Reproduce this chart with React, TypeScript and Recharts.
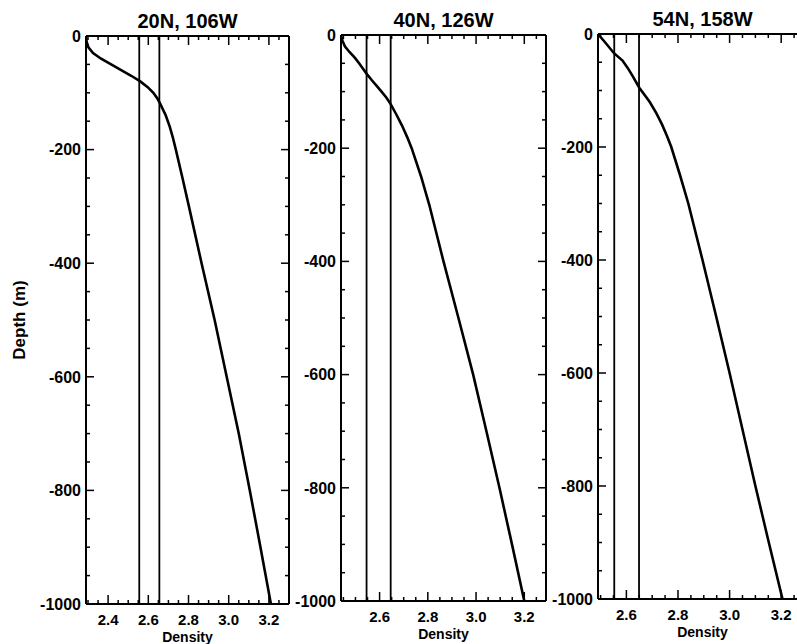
import React from 'react';
import { LineChart, Line, XAxis, YAxis, ReferenceLine } from 'recharts';

const FONT = '"Liberation Sans", Arial, Helvetica, sans-serif';

// ---- data ----
const titles = ['20N, 106W', '40N, 126W', '54N, 158W'];

const depth1 = [0, -10, -20, -30, -40, -50, -60, -70, -80, -90, -100, -110, -120, -140, -160, -180, -200, -250, -300, -400, -500, -600, -700, -800, -900, -1000];
const density1 = [2.29, 2.293, 2.302, 2.325, 2.365, 2.415, 2.465, 2.515, 2.56, 2.597, 2.625, 2.645, 2.66, 2.687, 2.707, 2.723, 2.737, 2.77, 2.802, 2.865, 2.93, 2.99, 3.05, 3.105, 3.158, 3.21];

const depth2 = [0, -10, -20, -30, -40, -50, -60, -70, -80, -90, -100, -110, -120, -140, -160, -180, -200, -250, -300, -400, -500, -600, -700, -800, -900, -1000];
const density2 = [2.44, 2.446, 2.456, 2.475, 2.497, 2.515, 2.532, 2.549, 2.568, 2.588, 2.608, 2.627, 2.643, 2.669, 2.693, 2.714, 2.733, 2.772, 2.806, 2.865, 2.927, 2.988, 3.043, 3.097, 3.149, 3.2];

const depth3 = [0, -15, -34, -47, -60, -75, -95, -120, -140, -160, -180, -200, -250, -300, -400, -500, -600, -700, -800, -900, -1000];
const density3 = [2.49, 2.518, 2.552, 2.585, 2.605, 2.625, 2.65, 2.69, 2.716, 2.738, 2.757, 2.774, 2.808, 2.84, 2.895, 2.948, 3.0, 3.05, 3.1, 3.152, 3.205];

const refLines1 = [2.555, 2.655];
const refLines2 = [2.546, 2.646];
const refLines3 = [2.553, 2.649];

const xLabels1 = [2.4, 2.6, 2.8, 3.0, 3.2];
const xLabels2 = [2.6, 2.8, 3.0, 3.2];
const xLabels3 = [2.6, 2.8, 3.0, 3.2];

const xDomain1: [number, number] = [2.29, 3.3];
const xDomain2: [number, number] = [2.44, 3.29];
const xDomain3: [number, number] = [2.49, 3.3];

const yLabels = [0, -200, -400, -600, -800, -1000];
const yDomain: [number, number] = [-1000, 0];

// minor tick helpers (axis configuration)
const stepTicks = (lo: number, hi: number, step: number) => {
  const out: number[] = [];
  const start = Math.ceil(lo / step - 1e-9) * step;
  for (let v = start; v <= hi + 1e-9; v += step) out.push(Math.round(v * 1000) / 1000);
  return out;
};
const yTicks = stepTicks(-1000, 0, 50);

const isIn = (arr: number[], v: number) => arr.some((a) => Math.abs(a - v) < 1e-6);

const makeXTick = (majors: number[], side: 'top' | 'bottom') => (props: any) => {
  const { x, y, payload } = props;
  const v = payload.value as number;
  const major = isIn(majors, v);
  const len = major ? 9 : 4;
  const dir = side === 'bottom' ? -1 : 1;
  return (
    <g>
      <line x1={x} x2={x} y1={y} y2={y + dir * len} stroke="#000" strokeWidth={1.5} />
      {side === 'bottom' && major && (
        <text x={x} y={y + 21} textAnchor="middle" fontFamily={FONT} fontWeight="bold" fontSize={15} fill="#000">
          {v.toFixed(1)}
        </text>
      )}
    </g>
  );
};

const makeYTick = (side: 'left' | 'right') => (props: any) => {
  const { x, y, payload } = props;
  const v = payload.value as number;
  const major = isIn(yLabels, v);
  const len = major ? 8 : 4;
  const dir = side === 'left' ? 1 : -1;
  return (
    <g>
      <line x1={x} x2={x + dir * len} y1={y} y2={y} stroke="#000" strokeWidth={1.5} />
      {side === 'left' && major && (
        <text x={x - 5} y={y} dy="0.36em" textAnchor="end" fontFamily={FONT} fontWeight="bold" fontSize={16} fill="#000">
          {String(v)}
        </text>
      )}
    </g>
  );
};

type PanelProps = {
  title: string;
  depth: number[];
  density: number[];
  refs: number[];
  labels: number[];
  domain: [number, number];
  plotLeft: number;
  plotTop: number;
  plotWidth: number;
  plotHeight: number;
  leftPad: number;
  showYLabel: boolean;
};

const Panel = (p: PanelProps) => {
  const data = p.depth.map((d, i) => ({ depth: d, density: p.density[i] }));
  const minors = stepTicks(p.domain[0], p.domain[1], 0.05);
  const rightPad = 12;
  const width = p.leftPad + p.plotWidth + rightPad;
  const height = 644;
  const axisLine = { stroke: '#000', strokeWidth: 2 };
  return (
    <div style={{ position: 'absolute', left: p.plotLeft - p.leftPad, top: 0, width, height }}>
      <LineChart
        width={width}
        height={height}
        data={data}
        margin={{
          top: p.plotTop - 1,
          left: p.leftPad - 1,
          right: rightPad - 1,
          bottom: height - p.plotTop - p.plotHeight - 1,
        }}
      >
        <XAxis
          dataKey="density"
          type="number"
          domain={p.domain}
          allowDataOverflow
          ticks={minors}
          interval={0}
          height={1}
          tickSize={0}
          tickMargin={0}
          tickLine={false}
          axisLine={axisLine}
          tick={makeXTick(p.labels, 'bottom')}
          label={{
            content: (lp: any) => {
              const vb = lp.viewBox;
              return (
                <text x={vb.x + vb.width / 2} y={vb.y + 37.5} textAnchor="middle" fontFamily={FONT} fontWeight="bold" fontSize={14} fill="#000">
                  Density
                </text>
              );
            },
          }}
        />
        <XAxis
          xAxisId="top"
          orientation="top"
          dataKey="density"
          type="number"
          domain={p.domain}
          allowDataOverflow
          ticks={minors}
          interval={0}
          height={1}
          tickSize={0}
          tickMargin={0}
          tickLine={false}
          axisLine={axisLine}
          tick={makeXTick(p.labels, 'top')}
          label={{
            content: (lp: any) => {
              const vb = lp.viewBox;
              return (
                <text x={vb.x + vb.width / 2} y={vb.y + vb.height - 8} textAnchor="middle" fontFamily={FONT} fontWeight="bold" fontSize={20} fill="#000">
                  {p.title}
                </text>
              );
            },
          }}
        />
        <YAxis
          type="number"
          domain={yDomain}
          allowDataOverflow
          ticks={yTicks}
          interval={0}
          width={1}
          tickSize={0}
          tickMargin={0}
          tickLine={false}
          axisLine={axisLine}
          tick={makeYTick('left')}
          label={
            p.showYLabel
              ? {
                  content: (lp: any) => {
                    const vb = lp.viewBox;
                    const cx = vb.x + vb.width - 67;
                    const cy = vb.y + vb.height / 2;
                    return (
                      <text
                        transform={`translate(${cx}, ${cy}) rotate(-90)`}
                        dy="0.36em"
                        textAnchor="middle"
                        fontFamily={FONT}
                        fontWeight="bold"
                        fontSize={17}
                        fill="#000"
                      >
                        Depth (m)
                      </text>
                    );
                  },
                }
              : undefined
          }
        />
        <YAxis
          yAxisId="right"
          orientation="right"
          type="number"
          domain={yDomain}
          allowDataOverflow
          ticks={yTicks}
          interval={0}
          width={1}
          tickSize={0}
          tickMargin={0}
          tickLine={false}
          axisLine={axisLine}
          tick={makeYTick('right')}
        />
        {p.refs.map((r) => (
          <ReferenceLine key={r} x={r} stroke="#000" strokeWidth={1.8} ifOverflow="visible" />
        ))}
        {/* invisible twin bound to the top/right frame axes so they get scaled */}
        <Line
          xAxisId="top"
          yAxisId="right"
          type="linear"
          dataKey="depth"
          stroke="none"
          strokeWidth={0}
          dot={false}
          activeDot={false}
          legendType="none"
          isAnimationActive={false}
        />
        <Line
          type="linear"
          dataKey="depth"
          stroke="#000"
          strokeWidth={2.6}
          dot={false}
          activeDot={false}
          isAnimationActive={false}
        />
      </LineChart>
    </div>
  );
};

export default function App() {
  return (
    <div
      style={{
        position: 'fixed',
        left: 0,
        top: 0,
        width: 797,
        height: 644,
        overflow: 'hidden',
        background: '#fff',
      }}
    >
      <Panel
        title={titles[0]}
        depth={depth1}
        density={density1}
        refs={refLines1}
        labels={xLabels1}
        domain={xDomain1}
        plotLeft={86}
        plotTop={36}
        plotWidth={203}
        plotHeight={568}
        leftPad={86}
        showYLabel
      />
      <Panel
        title={titles[1]}
        depth={depth2}
        density={density2}
        refs={refLines2}
        labels={xLabels2}
        domain={xDomain2}
        plotLeft={341}
        plotTop={35}
        plotWidth={205}
        plotHeight={566}
        leftPad={60}
        showYLabel={false}
      />
      <Panel
        title={titles[2]}
        depth={depth3}
        density={density3}
        refs={refLines3}
        labels={xLabels3}
        domain={xDomain3}
        plotLeft={598}
        plotTop={34}
        plotWidth={209}
        plotHeight={565}
        leftPad={60}
        showYLabel={false}
      />
    </div>
  );
}
